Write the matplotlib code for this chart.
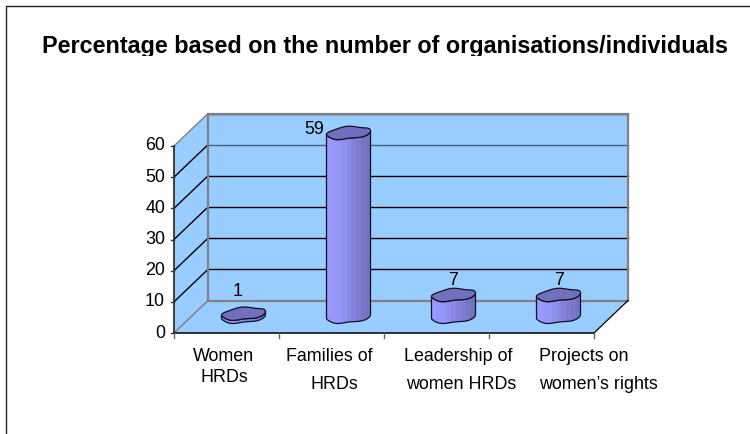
import numpy as np
import matplotlib
matplotlib.use('Agg')
import matplotlib.pyplot as plt
from matplotlib.patches import Polygon, PathPatch
from matplotlib.path import Path
from matplotlib.colors import LinearSegmentedColormap
from matplotlib.transforms import Bbox

plt.rcParams['font.family'] = ['Liberation Sans', 'DejaVu Sans']

label_lines = [('Women', 'HRDs'), ('Families of', 'HRDs'), ('Leadership of', 'women HRDs'), ('Projects on', 'women\u2019s rights')]
values = [1, 59, 7, 7]
yticks = [0, 10, 20, 30, 40, 50, 60]
title = 'Percentage based on the number of organisations/individuals'

W, H = 750, 434
fig = plt.figure(figsize=(W/100, H/100), dpi=100)
# page layer in pixels, for the page border, title and hand placed labels
page = fig.add_axes([0, 0, 1, 1])
page.set_xlim(0, W)
page.set_ylim(H, 0)
page.axis('off')
page.plot([750, 5.5, 5.5], [5.5, 5.5, 434], color='#222222', lw=1.0)
t = page.text(385, 53, title, ha='center', va='baseline', fontsize=16.8, fontweight='bold', color='black')
t.set_clip_box(Bbox([[0, H-55.5], [W, H]]))
t.set_clip_on(True)

# front plane of the chart: x in categories, y in chart values
ax = fig.add_axes([174/W, 1-333/H, 420/W, 187/H])
ax.set_xlim(0, 4)
ax.set_ylim(0, 60)
ax.axis('off')
xpx = 105.0
ypx = 187/60
dx = 34/xpx   # depth of box
dy = 32.5/ypx
wall = '#99CCFF'

ax.add_patch(Polygon([(dx, dy), (4+dx, dy), (4+dx, 60+dy), (dx, 60+dy)], fc=wall, ec='none', clip_on=False, zorder=1))
ax.add_patch(Polygon([(0, 0), (dx, dy), (dx, 60+dy), (0, 60)], fc=wall, ec='none', clip_on=False, zorder=1))
ax.add_patch(Polygon([(0, 0), (4, 0), (4+dx, dy), (dx, dy)], fc=wall, ec='none', clip_on=False, zorder=1))

for v in yticks[1:]:
    c = '#44607A' if v == 50 else 'black'
    ax.plot([dx, 4+dx], [v+dy, v+dy], color=c, lw=1.0, clip_on=False, zorder=2)
    ax.plot([0, dx], [v, v+dy], color='#808080' if v == 60 else 'black', lw=1.0, clip_on=False, zorder=2)

gray = '#808080'
ax.plot([dx, dx, 4+dx, 4+dx, dx], [dy, 60+dy, 60+dy, dy, dy], color=gray, lw=1.6, clip_on=False, zorder=2.2, solid_joinstyle='miter')
ax.plot([0, dx], [0, dy], color=gray, lw=1.1, clip_on=False, zorder=2.2)
ax.plot([4, 4+dx], [0, dy], color='black', lw=0.9, clip_on=False, zorder=2.2)

# front axes
ax.plot([0, 0], [0, 60], color='#333333', lw=1.3, clip_on=False, zorder=3)
ax.plot([0, 4], [0, 0], color='black', lw=1.1, clip_on=False, zorder=3)
for v in yticks:
    ax.plot([-3/xpx, 0], [v, v], color='#333333', lw=1.0, clip_on=False, zorder=3)
    ax.text(-9/xpx, v, str(v), ha='right', va='center', fontsize=12.9, color='black')
for i in range(5):
    ax.plot([i, i], [0, -5/ypx], color='#666666', lw=1.0, clip_on=False, zorder=3)

# the category labels sit off centre in the reference, so they are placed line by line
first_x = [193, 286, 404, 539]
second_x = [201, 310, 406, 539]
second_y = [382, 389, 389, 389]
for (a, b), x1, x2, y2 in zip(label_lines, first_x, second_x, second_y):
    page.text(x1, 361, a, ha='left', va='baseline', fontsize=12.9, color='black')
    page.text(x2, y2, b, ha='left', va='baseline', fontsize=12.9, color='black')

# cylinders
shade = LinearSegmentedColormap.from_list('cyl', ['#9999FF', '#9696F8', '#8A8AE6', '#7E7ED2', '#7272BE'])
rx = 22/xpx
ry = 6/ypx
tilt = 1.8/ypx
ang = np.linspace(0, 2*np.pi, 121)

def blob(xc, yc):
    wx = rx*np.cos(ang)
    wy = ry*np.sin(ang)*(1 + 0.06*np.sin(5*ang)) + tilt*np.cos(ang) + 0.4/ypx*np.sin(4*ang+0.8)
    return xc + wx, yc + wy

label_dx = [-6, -34, 0, 1]
label_dy = [18, -1, 10, 10]
for i, v in enumerate(values):
    xc = i + 0.5 + dx/2
    y0 = dy/2
    y1 = y0 + v
    xs, ys = blob(xc, y0)
    xt, yt = blob(xc, y1)
    front = ang >= np.pi
    # side outline: lower half of the base, upper half of the top
    ox = np.r_[xs[front], xt[front][::-1]]
    oy = np.r_[ys[front], yt[front][::-1]]
    p = PathPatch(Path(np.c_[ox, oy]), fc='none', ec='none', clip_on=False, zorder=4)
    ax.add_patch(p)
    im = ax.imshow(np.linspace(0, 1, 9)[None, :], cmap=shade, aspect='auto', interpolation='nearest',
                   extent=[xc-rx, xc+rx, y0-ry*2, y1+ry*2], zorder=4)
    im.set_clip_box(fig.bbox)   # the tall one pokes above the axes box
    im.set_clip_path(p)
    ax.fill(ox, oy, fc='none', ec='#111122', lw=0.9, clip_on=False, zorder=4.5)
    ax.fill(xt, yt, fc='#7070BE', ec='#111122', lw=0.9, clip_on=False, zorder=5)
    ax.text(xc + label_dx[i]/xpx, y1 + label_dy[i]/ypx, str(v), ha='center', va='baseline', fontsize=12.9,
            color='black', clip_on=False, zorder=6)
ax.set_xlim(0, 4)
ax.set_ylim(0, 60)

fig.savefig('out.png', dpi=100)
